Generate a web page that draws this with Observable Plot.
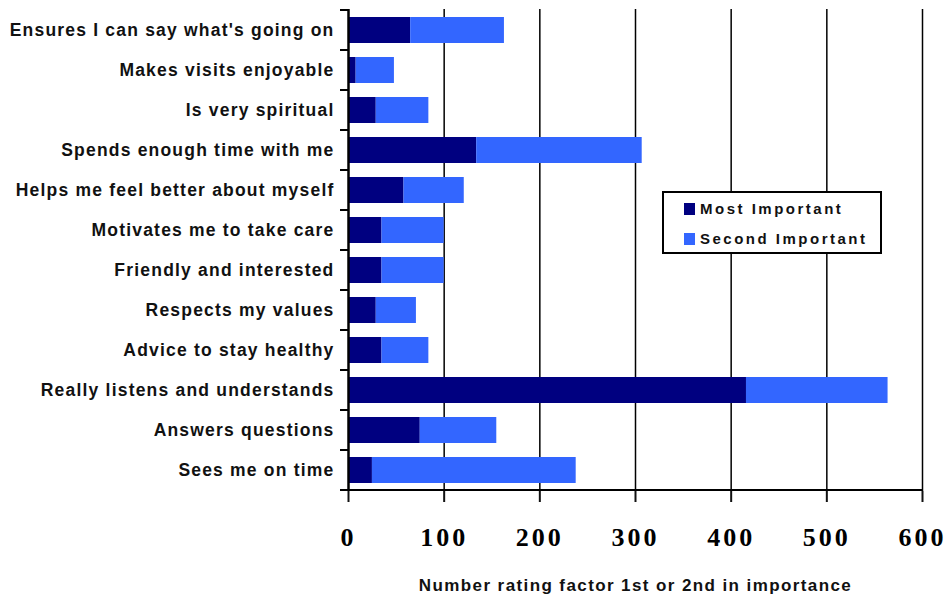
<!DOCTYPE html>
<html>
<head>
<meta charset="utf-8">
<script src="https://cdn.jsdelivr.net/npm/d3@7"></script>
<script src="https://cdn.jsdelivr.net/npm/@observablehq/plot@0.6"></script>
<style>
  body { margin: 0; background: #fff; }
  #wrap { position: relative; width: 950px; height: 597px; }
  #wrap svg { display: block; }
  g[aria-label="y-axis tick label"] text { letter-spacing: 1.2px; }
  g[aria-label="x-axis tick label"] text { letter-spacing: 3px; }
  g[aria-label="text"] text { letter-spacing: 1.4px; }
  .legend {
    position: absolute; left: 662px; top: 191px; width: 216px; height: 59px;
    border: 2px solid #000; background: #fff;
    font-family: "Liberation Sans", Arial, sans-serif; font-weight: bold; font-size: 15px;
    letter-spacing: 2.5px; color: #111;
  }
  .legend .row { position: absolute; left: 20px; display: flex; align-items: center; white-space: nowrap; }
  .legend .sw { width: 11px; height: 12px; margin-right: 5px; }
</style>
</head>
<body>
<div id="wrap"></div>
<script>
// Factors, listed top to bottom
const categories = [
  "Ensures I can say what's going on",
  "Makes visits enjoyable",
  "Is very spiritual",
  "Spends enough time with me",
  "Helps me feel better about myself",
  "Motivates me to take care",
  "Friendly and interested",
  "Respects my values",
  "Advice to stay healthy",
  "Really listens and understands",
  "Answers questions",
  "Sees me on time"
];

// Number of people rating each factor first / second
const mostImportant   = [65, 8, 29, 134, 58, 35, 35, 29, 35, 416, 75, 25];
const secondImportant = [98, 40, 55, 173, 63, 65, 65, 42, 49, 148, 80, 213];

const seriesNames = ["Most Important", "Second Important"];
const seriesColors = ["#000080", "#3366FF"];

const xTicks = [0, 100, 200, 300, 400, 500, 600];
const axisTitle = "Number rating factor 1st or 2nd in importance";

const rows = categories.flatMap((c, i) => [
  {category: c, series: seriesNames[0], value: mostImportant[i]},
  {category: c, series: seriesNames[1], value: secondImportant[i]}
]);

const chart = Plot.plot({
  width: 950,
  height: 597,
  marginLeft: 348,
  marginRight: 28,
  marginTop: 9,
  marginBottom: 106,
  style: {fontFamily: "Liberation Sans, Arial, sans-serif", background: "#fff", color: "#111"},
  x: {domain: [0, 600], ticks: xTicks, label: null},
  y: {domain: categories, paddingInner: 0.35, paddingOuter: 0.175, label: null},
  color: {domain: seriesNames, range: seriesColors},
  marks: [
    Plot.ruleX(xTicks.filter(v => v > 0), {stroke: "#000", strokeWidth: 1.5}),
    Plot.barX(rows, {x: "value", y: "category", fill: "series", order: seriesNames}),
    Plot.ruleX([0], {stroke: "#000", strokeWidth: 2.5}),
    Plot.axisX({
      ticks: xTicks, tickSize: 11, tickPadding: 25, strokeWidth: 2, label: null,
      fontFamily: "Liberation Serif, Times New Roman, serif", fontSize: 26, fontWeight: "bold",
      fill: "#000"
    }),
    Plot.axisY({tickSize: 0, tickPadding: 14, fontSize: 17.5, fontWeight: "bold", label: null, fill: "#111", dy: -0.5}),
    Plot.text([axisTitle], {
      text: d => d, frameAnchor: "bottom", lineAnchor: "top", dy: 87,
      fontSize: 17, fontWeight: "bold", fill: "#111"
    })
  ]
});

document.getElementById("wrap").appendChild(chart);

// Band-boundary ticks on the category axis and the bottom axis line
const ys = chart.scale("y");
const xs = chart.scale("x");
const x0 = xs.apply(0);
const gap = (ys.step - ys.bandwidth) / 2;
const bounds = categories.map(c => ys.apply(c) - gap);
const bottom = bounds[bounds.length - 1] + ys.step;
bounds.push(bottom);
const g = d3.select(chart).append("g").attr("stroke", "#000").attr("stroke-width", 2);
g.selectAll("line.b").data(bounds).join("line")
  .attr("x1", x0 - 8).attr("x2", x0).attr("y1", d => d).attr("y2", d => d);
g.append("line")
  .attr("x1", x0 - 8).attr("x2", xs.apply(600) + 1).attr("y1", bottom).attr("y2", bottom);

// Legend
const legend = d3.select("#wrap").append("div").attr("class", "legend");
seriesNames.forEach((name, i) => {
  const row = legend.append("div").attr("class", "row").style("top", (7 + i * 30) + "px");
  row.append("div").attr("class", "sw").style("background", seriesColors[i]);
  row.append("span").text(name);
});
</script>
</body>
</html>
